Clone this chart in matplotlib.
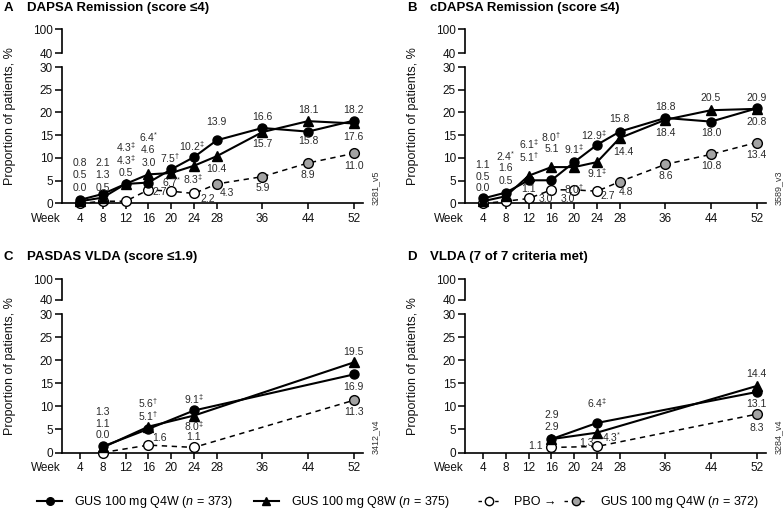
import matplotlib
matplotlib.use("Agg")
import matplotlib.pyplot as plt
from matplotlib.lines import Line2D

plt.rcParams['font.family'] = ['Liberation Sans', 'DejaVu Sans']
plt.rcParams['mathtext.fontset'] = 'custom'
plt.rcParams['mathtext.rm'] = 'Liberation Sans'
plt.rcParams['mathtext.it'] = 'Liberation Sans:italic'

# x ticks shared by all panels
week_ticks = [4, 8, 12, 16, 20, 24, 28, 36, 44, 52]

# A: DAPSA remission
weeks_a = [4, 8, 12, 16, 20, 24, 28, 36, 44, 52]
a_q4w = [0.8, 2.1, 4.3, 4.6, 7.5, 10.2, 13.9, 16.6, 15.8, 18.2]
a_q8w = [0.5, 1.3, 4.3, 6.4, 6.7, 8.3, 10.4, 15.7, 18.1, 17.6]
a_pbo = [0.0, 0.5, 0.5, 3.0, 2.7, 2.2, 4.3, 5.9, 8.9, 11.0]
a_q4w_sig = ["", "", "‡", "", "†", "‡", "", "", "", ""]
a_q8w_sig = ["", "", "‡", "*", "*", "‡", "", "", "", ""]
a_pbo_sig = [""] * 10
# label positions (week shift, y)
a_q4w_dx = [0, 0, 0, 0, -0.2, -0.4, 0, 0, 0, 0]
a_q4w_ly = [8.8, 8.8, 12.4, 11.7, 9.9, 12.6, 17.9, 19.0, 13.7, 20.5]
a_q8w_dx = [0, 0, 0, 0, 0, -0.2, 0, 0, 0, 0]
a_q8w_ly = [6.2, 6.2, 9.5, 14.6, 4.6, 5.3, 7.5, 13.0, 20.5, 14.6]
a_pbo_dx = [0, 0, 0, 0, -2.0, 2.4, 1.7, 0, 0, 0]
a_pbo_ly = [3.5, 3.5, 6.8, 8.8, 2.6, 0.9, 2.2, 3.3, 6.2, 8.2]

# B: cDAPSA remission
weeks_b = [4, 8, 12, 16, 20, 24, 28, 36, 44, 52]
b_q4w = [1.1, 2.4, 5.1, 5.1, 9.1, 12.9, 15.8, 18.8, 18.0, 20.9]
b_q8w = [0.5, 1.6, 6.1, 8.0, 8.0, 9.1, 14.4, 18.4, 20.5, 20.8]
b_pbo = [0.0, 0.5, 1.1, 3.0, 3.0, 2.7, 4.8, 8.6, 10.8, 13.4]
b_q4w_sig = ["", "*", "†", "", "‡", "‡", "", "", "", ""]
b_q8w_sig = ["", "", "‡", "†", "†", "‡", "", "", "", ""]
b_pbo_sig = [""] * 10
b_q4w_dx = [0, 0, 0, 0, 0, -0.6, 0, 0, 0, 0]
b_q4w_ly = [8.4, 10.4, 10.2, 12.0, 12.0, 15.1, 18.5, 21.2, 15.6, 23.1]
b_q8w_dx = [0, 0, 0, 0, 0, 0, 0.7, 0, 0, 0]
b_q8w_ly = [5.8, 7.8, 13.0, 14.7, 3.2, 6.7, 11.4, 15.6, 23.1, 18.0]
b_pbo_dx = [0, 0, 0, -1.0, -1.1, 1.8, 1.1, 0, 0, 0]
b_pbo_ly = [3.3, 4.9, 3.2, 1.0, 1.0, 1.6, 2.6, 6.0, 8.2, 10.6]

# C: PASDAS VLDA
weeks_c = [8, 16, 24, 52]
c_q4w = [1.3, 5.1, 9.1, 16.9]
c_q8w = [1.1, 5.6, 8.0, 19.5]
c_pbo = [0.0, 1.6, 1.1, 11.3]
c_q4w_sig = ["", "†", "‡", ""]
c_q8w_sig = ["", "†", "‡", ""]
c_pbo_sig = ["", "", "", ""]
c_q4w_dx = [0, 0, 0, 0]
c_q4w_ly = [8.7, 7.9, 11.5, 14.1]
c_q8w_dx = [0, 0, 0, 0]
c_q8w_ly = [6.2, 10.6, 5.8, 21.8]
c_pbo_dx = [0, 1.9, 0, 0]
c_pbo_ly = [3.7, 3.1, 3.3, 8.7]

# D: VLDA
weeks_d = [16, 24, 52]
d_q4w = [2.9, 6.4, 13.1]
d_q8w = [2.9, 4.3, 14.4]
d_pbo = [1.1, 1.3, 8.3]
d_q4w_sig = ["", "‡", ""]
d_q8w_sig = ["", "*", ""]
d_pbo_sig = ["", "", ""]
d_q4w_dx = [0, 0, 0]
d_q4w_ly = [8.1, 10.6, 10.5]
d_q8w_dx = [0, 2.6, 0]
d_q8w_ly = [5.5, 3.3, 16.9]
d_pbo_dx = [-2.8, -1.9, 0]
d_pbo_ly = [1.3, 2.1, 5.2]

switch_week = 28  # placebo crossover to GUS Q4W

GRAY = '#a3a3a3'
W, H = 783, 511

fig = plt.figure(figsize=(7.83, 5.11), dpi=100)


def fig_rect(x0, ytop, x1, ybot):
    return [x0 / W, 1 - ybot / H, (x1 - x0) / W, (ybot - ytop) / H]


def fmt(v, s):
    sym = {"*": "*", "†": r"\dag", "‡": r"\ddag"}
    if s:
        return f"{v:.1f}$^{{{sym[s]}}}$"
    return f"{v:.1f}"


def panel(x0, row_top, letter, title, code, weeks, series, labels):
    # row_top: (title y, upper axes top, upper bottom, lower top, lower bottom)
    ty, ut, ub, lt, lb = row_top
    x1 = x0 + 301
    xl = (4 - 18 / 5.7, 4 - 18 / 5.7 + 301 / 5.7)

    ax = fig.add_axes(fig_rect(x0, lt, x1, lb))
    axu = fig.add_axes(fig_rect(x0, ut, x1, ub))
    for a in (ax, axu):
        a.set_xlim(*xl)
        a.spines['top'].set_visible(False)
        a.spines['right'].set_visible(False)
        a.spines['left'].set_linewidth(1.2)
        a.spines['bottom'].set_linewidth(1.2)
        a.patch.set_alpha(0)
        a.tick_params(axis='y', direction='out', length=5, width=1.2, pad=1.5,
                      labelsize=8.5, colors='#111')
    axu.spines['bottom'].set_visible(False)
    axu.set_xticks([])
    axu.set_ylim(40, 100)
    axu.set_yticks([40, 100])

    ax.set_ylim(0, 30)
    ax.set_yticks([0, 5, 10, 15, 20, 25, 30])
    ax.set_xticks(week_ticks)
    ax.tick_params(axis='x', direction='out', length=4, width=1.2, pad=3,
                   labelsize=8.5, colors='#111')
    ax.annotate('Week', xy=(0, 0), xycoords='axes fraction', xytext=(-1, -7),
                textcoords='offset points', ha='right', va='top', fontsize=8.5,
                color='#111')

    q4w, q8w, pbo = series
    ax.plot(weeks, pbo, color='black', lw=1.1, linestyle=(0, (3.5, 3)),
            zorder=2, clip_on=False)
    pre = [i for i, w in enumerate(weeks) if w < switch_week]
    post = [i for i, w in enumerate(weeks) if w >= switch_week]
    ax.plot([weeks[i] for i in pre], [pbo[i] for i in pre], 'o', ms=7,
            mfc='white', mec='black', mew=1.0, zorder=3, clip_on=False)
    ax.plot([weeks[i] for i in post], [pbo[i] for i in post], 'o', ms=7,
            mfc=GRAY, mec='black', mew=1.0, zorder=3, clip_on=False)
    ax.plot(weeks, q8w, '-^', color='black', lw=1.5, ms=7, zorder=4, clip_on=False)
    ax.plot(weeks, q4w, '-o', color='black', lw=1.5, ms=6.5, zorder=5, clip_on=False)

    for vals, sig, dx, ly in labels:
        for w, v, s, d, y in zip(weeks, vals, sig, dx, ly):
            ax.text(w + d, y, fmt(v, s), ha='center', va='center', fontsize=7.5,
                    color='#2a2a2a', zorder=6)

    fig.text((x0 - 58) / W, 1 - ty / H, letter, fontsize=9.5, fontweight='bold',
             ha='left', va='center')
    fig.text((x0 - 35) / W, 1 - ty / H, title, fontsize=9.5, fontweight='bold',
             ha='left', va='center')
    fig.text((x0 - 52) / W, 1 - (ut + lb) / 2 / H, 'Proportion of patients, %',
             rotation=90, ha='center', va='center', fontsize=9, color='#111')
    fig.text((x0 + 313) / W, 1 - (lb - 16) / H, code, rotation=90, ha='center',
             va='center', fontsize=6.5, color='#333')


top_row = (8, 29, 53, 67, 203.5)
bot_row = (257, 279, 300, 314, 452.5)

panel(62, top_row, 'A', 'DAPSA Remission (score ≤4)', '3281_v5', weeks_a,
      (a_q4w, a_q8w, a_pbo),
      [(a_q4w, a_q4w_sig, a_q4w_dx, a_q4w_ly),
       (a_q8w, a_q8w_sig, a_q8w_dx, a_q8w_ly),
       (a_pbo, a_pbo_sig, a_pbo_dx, a_pbo_ly)])
panel(465, top_row, 'B', 'cDAPSA Remission (score ≤4)', '3589_v3', weeks_b,
      (b_q4w, b_q8w, b_pbo),
      [(b_q4w, b_q4w_sig, b_q4w_dx, b_q4w_ly),
       (b_q8w, b_q8w_sig, b_q8w_dx, b_q8w_ly),
       (b_pbo, b_pbo_sig, b_pbo_dx, b_pbo_ly)])
panel(62, bot_row, 'C', 'PASDAS VLDA (score ≤1.9)', '3412_v4', weeks_c,
      (c_q4w, c_q8w, c_pbo),
      [(c_q4w, c_q4w_sig, c_q4w_dx, c_q4w_ly),
       (c_q8w, c_q8w_sig, c_q8w_dx, c_q8w_ly),
       (c_pbo, c_pbo_sig, c_pbo_dx, c_pbo_ly)])
panel(465, bot_row, 'D', 'VLDA (7 of 7 criteria met)', '3284_v4', weeks_d,
      (d_q4w, d_q8w, d_pbo),
      [(d_q4w, d_q4w_sig, d_q4w_dx, d_q4w_ly),
       (d_q8w, d_q8w_sig, d_q8w_dx, d_q8w_ly),
       (d_pbo, d_pbo_sig, d_pbo_dx, d_pbo_ly)])

# legend
h1 = Line2D([], [], color='black', lw=1.5, marker='o', ms=5.5)
h2 = Line2D([], [], color='black', lw=1.5, marker='^', ms=6)
h3 = Line2D([], [], color='black', lw=1.0, linestyle=(0, (2.5, 3.5)), marker='o',
            ms=6, mfc='white', mec='black')
h4 = Line2D([], [], color='black', lw=1.0, linestyle=(0, (2.5, 3.5)), marker='o',
            ms=6, mfc=GRAY, mec='black')
fig.legend([h1, h2], ['GUS 100 mg Q4W ($\\it{n}$ = 373)',
                      'GUS 100 mg Q8W ($\\it{n}$ = 375)'],
           loc='center left', bbox_to_anchor=(37 / W, 1 - 502 / H), ncol=2,
           frameon=False, fontsize=9, borderpad=0, handlelength=2.0,
           handletextpad=1.0, columnspacing=1.6, borderaxespad=0)
fig.legend([h3, h4], ['PBO →', 'GUS 100 mg Q4W ($\\it{n}$ = 372)'],
           loc='center left', bbox_to_anchor=(478 / W, 1 - 502 / H), ncol=2,
           frameon=False, fontsize=9, borderpad=0, handlelength=1.8,
           handletextpad=1.1, columnspacing=0.6, borderaxespad=0)

fig.savefig('out.png', dpi=100)
